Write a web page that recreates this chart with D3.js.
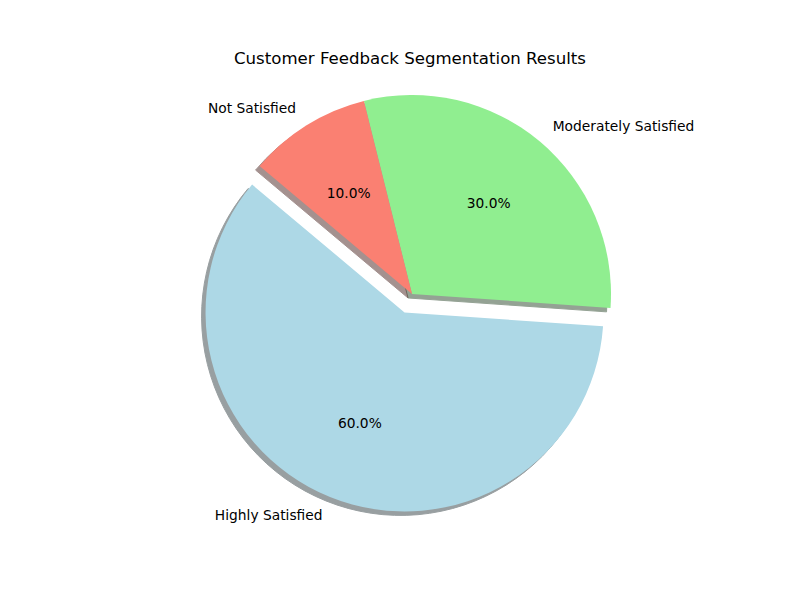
<!DOCTYPE html>
<html><head><meta charset="utf-8">
<script src="https://cdn.jsdelivr.net/npm/d3@7"></script>
<style>body{margin:0;background:#fff}svg{display:block}text{font-family:"DejaVu Sans",sans-serif}</style>
</head><body><svg id="c" width="800" height="600"></svg>
<script>
const categories = ["Highly Satisfied", "Moderately Satisfied", "Not Satisfied"];
const values = [60, 30, 10];
const colors = ["#add8e6", "#90ee90", "#fa8072"];
const explode = [0.1, 0, 0];
const title = "Customer Feedback Segmentation Results";

const svg = d3.select("#c");
const cx = 412, cy = 294, R = 199;
const startDeg = 140; // matplotlib startangle, counter-clockwise
const toRad = d => d * Math.PI / 180;

const pie = d3.pie().sort(null).value(d => d)
  .startAngle(toRad(90 - startDeg))
  .endAngle(toRad(90 - startDeg - 360));
const arcs = pie(values);
const arc = d3.arc().innerRadius(0).outerRadius(R);
const total = d3.sum(values);

const g = svg.append("g").attr("transform", `translate(${cx},${cy})`);

function offset(d, i) {
  const mid = (d.startAngle + d.endAngle) / 2;
  const e = explode[i] * R;
  return [Math.sin(mid) * e, -Math.cos(mid) * e];
}

// shadows
arcs.forEach((d, i) => {
  const [ox, oy] = offset(d, i);
  const c = d3.rgb(colors[i]);
  const sc = d3.rgb(c.r * 0.3, c.g * 0.3, c.b * 0.3);
  g.append("path").attr("d", arc(d))
    .attr("transform", `translate(${ox - 0.02 * R},${oy + 0.02 * R})`)
    .attr("fill", sc).attr("stroke", sc).attr("stroke-width", 1)
    .attr("opacity", 0.5);
});
// wedges
arcs.forEach((d, i) => {
  const [ox, oy] = offset(d, i);
  g.append("path").attr("d", arc(d))
    .attr("transform", `translate(${ox},${oy})`)
    .attr("fill", colors[i]);
});
// labels
arcs.forEach((d, i) => {
  const [ox, oy] = offset(d, i);
  const mid = (d.startAngle + d.endAngle) / 2;
  const lx = ox + Math.sin(mid) * R * 1.1, ly = oy - Math.cos(mid) * R * 1.1;
  g.append("text").attr("x", lx).attr("y", ly)
    .attr("text-anchor", lx - ox > 0 ? "start" : "end")
    .attr("dominant-baseline", "central")
    .attr("font-size", "13.8px").attr("fill", "#000")
    .text(categories[i]);
  const px = ox + Math.sin(mid) * R * 0.6, py = oy - Math.cos(mid) * R * 0.6;
  g.append("text").attr("x", px).attr("y", py)
    .attr("text-anchor", "middle").attr("dominant-baseline", "central")
    .attr("font-size", "13.8px").attr("fill", "#000")
    .text((values[i] / total * 100).toFixed(1) + "%");
});

svg.append("text").attr("x", 410).attr("y", 58)
  .attr("text-anchor", "middle").attr("dominant-baseline", "central")
  .attr("font-size", "16.6px").attr("fill", "#000").text(title);
</script></body></html>
